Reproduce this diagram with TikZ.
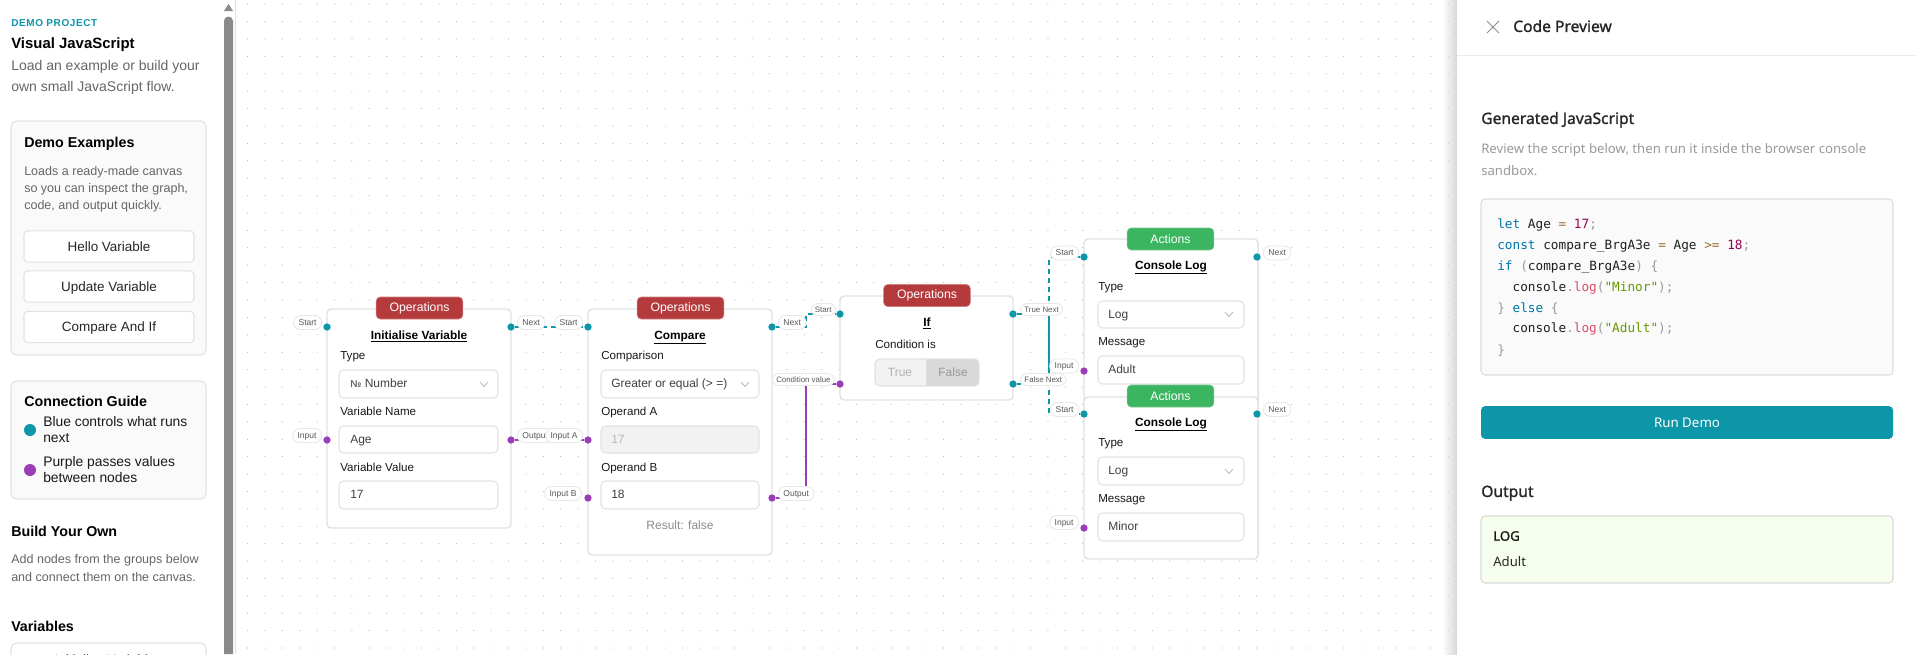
\documentclass[tikz,border=0pt]{standalone}
\usepackage{fontspec}
\setmainfont{Liberation Sans}
\newfontfamily\panelfont{Noto Sans}
\newfontfamily\panelboldfont[FakeBold=1.2]{Noto Sans}
\newfontfamily\codefont{DejaVu Sans Mono}
\usetikzlibrary{backgrounds}

\definecolor{teal}{HTML}{0D95A8}
\definecolor{violet}{HTML}{9C3DB8}
\definecolor{opsred}{HTML}{B53A3C}
\definecolor{actgreen}{HTML}{3CB560}
\definecolor{edgegrey}{HTML}{E2E2E2}
\definecolor{logbg}{HTML}{F6FFED}

\newcommand{\codeK}[1]{\textcolor[HTML]{0077AA}{#1}}
\newcommand{\codeN}[1]{\textcolor[HTML]{990055}{#1}}
\newcommand{\codeO}[1]{\textcolor[HTML]{9A6E3A}{#1}}
\newcommand{\codeP}[1]{\textcolor[HTML]{999999}{#1}}
\newcommand{\codeS}[1]{\textcolor[HTML]{669900}{#1}}
\newcommand{\codeF}[1]{\textcolor[HTML]{DD4A68}{#1}}

\begin{document}
\begin{tikzpicture}[
  x=0.75pt, y=-0.75pt,
  txt/.style={inner sep=0, anchor=west, text height=7pt, text depth=2pt},
  side/.style={txt, text height=9.2pt, text=black!60, font=\fontsize{9.4}{11}\selectfont},
  head/.style={txt, text height=9.8pt, text=black, font=\bfseries\fontsize{10.7}{12}\selectfont},
  btn/.style={draw=edgegrey, fill=white, rounded corners=3pt, line width=0.8pt, minimum width=127.5pt, minimum height=23.5pt, inner sep=0, text=black!85, text height=9pt, text depth=2pt, font=\fontsize{10.1}{12}\selectfont},
  card/.style={draw=edgegrey, fill=white, line width=1.1pt, rounded corners=3pt},
  badgeR/.style={draw=opsred!65, fill=opsred, rounded corners=3pt, minimum width=65pt, minimum height=16.5pt, inner sep=0, text=white, font=\fontsize{9.2}{11}\selectfont},
  badgeG/.style={badgeR, draw=actgreen!70, fill=actgreen},
  title/.style={inner sep=0, text height=7pt, text depth=2pt, text=black, font=\bfseries\fontsize{8.9}{11}\selectfont},
  lab/.style={txt, text=black!90, font=\fontsize{8.7}{11}\selectfont},
  val/.style={txt, text=black!75, font=\fontsize{9}{11}\selectfont},
  field/.style={draw=edgegrey, fill=white, line width=0.8pt, rounded corners=3.5pt},
  chev/.style={draw=black!28, line width=0.6pt},
  pill/.style={draw=black!9, fill=white, line width=0.7pt, rounded corners=5pt, minimum height=10.5pt, inner xsep=3.7pt, inner ysep=0, text=black!65, text height=5pt, text depth=1.2pt, font=\fontsize{6.4}{8}\selectfont},
  pillS/.style={pill, minimum height=9pt, inner xsep=3pt, font=\fontsize{5.9}{7}\selectfont},
  portT/.style={circle, fill=teal, inner sep=0, minimum size=5.5pt},
  portV/.style={circle, fill=violet, inner sep=0, minimum size=5.5pt},
  edgeT/.style={teal, line width=1.5pt, dash pattern=on 3.75pt off 3pt},
  edgeV/.style={violet, line width=1.5pt},
  pane/.style={txt, text height=7.6pt, font=\panelfont\fontsize{9.87}{12}\selectfont},
  paneH/.style={txt, text height=9.4pt, text=black!85, font=\panelboldfont\fontsize{11.7}{14}\selectfont},
  code/.style={txt, text=black!88, font=\codefont\fontsize{9.55}{12}\selectfont}
]
\useasboundingbox (0,0) rectangle (1916,654);

% --- canvas ---
\begin{pgfonlayer}{background}
\fill[white] (0,0) rectangle (1916,654);
\shade[left color=white, right color=black!16] (1442,0) rectangle (1457,654);
\fill[black!28] \foreach \i in {0,...,69} { \foreach \j in {0,...,37} { (247.5+17.4*\i, 4.2+17.4*\j) circle[radius=0.6] } };
\end{pgfonlayer}

% --- initialise variable ---
\node[pill, anchor=east] (ivStartL) at (322,322.5) {Start};
\node[pill, anchor=east] (ivInputL) at (322,435.5) {Input};
\node[pill, anchor=west] (ivNextL) at (517,322.5) {Next};
\node[pill, anchor=west] (ivOutL) at (517,435.5) {Output};
\draw[card] (327,309) rectangle (511,528);
\node[badgeR] (ivBadge) at (419.5,308) {Operations};
\node[title] (ivTitle) at (419,336) {\underline{Initialise Variable}};
\node[lab] (ivType) at (340,356) {Type};
\draw[field] (339,370) rectangle (498,398);
\node[val] (ivTypeV) at (350,384) {{\bfseries\color{black!60}\fontsize{7.5}{9}\selectfont №} Number};
\draw[chev] (480,382) -- (484,386.5) -- (488,382);
\node[lab] (ivName) at (340,412) {Variable Name};
\draw[field] (339,426) rectangle (498,453);
\node[val] (ivNameV) at (350,440) {Age};
\node[lab] (ivVal) at (340,468) {Variable Value};
\draw[field] (339,481) rectangle (498,509);
\node[val] (ivValV) at (350,495) {17};
\node[portT] (ivStart) at (327,327) {};
\node[portV] (ivInput) at (327,440) {};
\node[portT] (ivNext) at (511,327) {};
\node[portV] (ivOut) at (511,440) {};

% --- compare ---
\node[pill, anchor=east] (cmpStartL) at (583,322.5) {Start};
\node[pill, anchor=east] (cmpAL) at (583,435.5) {Input A};
\node[pill, anchor=east] (cmpBL) at (582,493.5) {Input B};
\node[pill, anchor=west] (cmpNextL) at (778,322.5) {Next};
\node[pill, anchor=west] (cmpOutL) at (778,493.5) {Output};
\draw[card] (588,309) rectangle (772,555);
\node[badgeR] (cmpBadge) at (680.5,308) {Operations};
\node[title] (cmpTitle) at (680,336) {\underline{Compare}};
\node[lab] (cmpKind) at (601,356) {Comparison};
\draw[field] (601,370) rectangle (759,398);
\node[val] (cmpKindV) at (611,384) {Greater or equal (> =)};
\draw[chev] (741,382) -- (745,386.5) -- (749,382);
\node[lab] (cmpOpA) at (601,412) {Operand A};
\draw[field, fill=black!5] (601,426) rectangle (759,453);
\node[val, text=black!28] (cmpOpAV) at (611,440) {17};
\node[lab] (cmpOpB) at (601,468) {Operand B};
\draw[field] (601,481) rectangle (759,509);
\node[val] (cmpOpBV) at (611,495) {18};
\node[val, anchor=center, text=black!45] (cmpRes) at (680,526) {Result: false};
\node[portT] (cmpStart) at (588,327) {};
\node[portV] (cmpA) at (588,440) {};
\node[portV] (cmpB) at (588,498) {};
\node[portT] (cmpNext) at (772,327) {};
\node[portV] (cmpOut) at (772,498) {};

% --- if ---
\node[pillS, anchor=east] (ifStartL) at (836,309.5) {Start};
\node[pillS, anchor=east] (ifCondL) at (835,379.5) {Condition value};
\node[pillS, anchor=west] (ifTrueL) at (1020,309.5) {True Next};
\node[pillS, anchor=west] (ifFalseL) at (1020,379.5) {False Next};
\draw[card] (840,296) rectangle (1013,400);
\node[badgeR] (ifBadge) at (927,295.5) {Operations};
\node[title] (ifTitle) at (927,323) {\underline{If}};
\node[lab] (ifCond) at (875,345) {Condition is};
\draw[field, fill=black!5] (875,359) rectangle (979,386);
\fill[black!15] (926,359.4) [rounded corners=2.6pt] -- (978.6,359.4) -- (978.6,385.6) [sharp corners] -- (926,385.6) -- cycle;
\node[val, anchor=center, text=black!30] (ifTrue) at (900,373) {True};
\node[val, anchor=center, text=black!40] (ifFalse) at (953,373) {False};
\node[portT] (ifStart) at (840,314) {};
\node[portV] (ifCondP) at (840,384) {};
\node[portT] (ifTrueP) at (1013,314) {};
\node[portT] (ifFalseP) at (1013,384) {};

% --- console log (adult) ---
\node[pill, anchor=east] (adStartL) at (1079,253) {Start};
\node[pill, anchor=east] (adInputL) at (1079,366) {Input};
\node[pill, anchor=west] (adNextL) at (1263,253) {Next};
\draw[card] (1084,239) rectangle (1258,420);
\node[badgeG] (adBadge) at (1170.5,239) {Actions};
\node[title] (adTitle) at (1171,266) {\underline{Console Log}};
\node[lab] (adType) at (1098,287) {Type};
\draw[field] (1098,301) rectangle (1244,328);
\node[val] (adTypeV) at (1108,315) {Log};
\draw[chev] (1225,312) -- (1229,316.5) -- (1233,312);
\node[lab] (adMsg) at (1098,342) {Message};
\draw[field] (1098,356) rectangle (1244,384);
\node[val] (adMsgV) at (1108,370) {Adult};
\node[portT] (adStart) at (1084,257) {};
\node[portV] (adInput) at (1084,371) {};
\node[portT] (adNext) at (1257,257) {};

% --- console log (minor) ---
\node[pill, anchor=east] (miStartL) at (1079,409.5) {Start};
\node[pill, anchor=east] (miInputL) at (1079,522.5) {Input};
\node[pill, anchor=west] (miNextL) at (1263,409.5) {Next};
\draw[card] (1084,397) rectangle (1258,559);
\node[badgeG] (miBadge) at (1170.5,396) {Actions};
\node[title] (miTitle) at (1171,423) {\underline{Console Log}};
\node[lab] (miType) at (1098,443) {Type};
\draw[field] (1098,457) rectangle (1244,485);
\node[val] (miTypeV) at (1108,471) {Log};
\draw[chev] (1225,469) -- (1229,473.5) -- (1233,469);
\node[lab] (miMsg) at (1098,499) {Message};
\draw[field] (1098,513) rectangle (1244,541);
\node[val] (miMsgV) at (1108,527) {Minor};
\node[portT] (miStart) at (1084,414) {};
\node[portV] (miInput) at (1084,528) {};
\node[portT] (miNext) at (1257,414) {};

% --- edges ---
\begin{pgfonlayer}{background}
\draw[edgeT] (ivNext) -- (cmpStart);
\draw[edgeV] (ivOut) -- (cmpA);
\draw[edgeT] (cmpNext) -- ++(34,0) |- (ifStart);
\draw[edgeV] (cmpOut) -- ++(34,0) |- (ifCondP);
\draw[edgeT] (ifTrueP) -- ++(36,0) |- (miStart);
\draw[edgeT, dash phase=1.825pt] (adStart) -- ++(-35,0) |- (ifFalseP);
\end{pgfonlayer}

% --- sidebar ---
\fill[white] (0,0) rectangle (235,654);
\draw[black!12] (235.5,0) -- (235.5,654);
\fill[black!46] (224,21) arc[start angle=180, end angle=360, radius=4.5] -- (233,654) -- (224,654) -- cycle;
\fill[black!46] (224,11) -- (228.5,4) -- (233,11) -- cycle;
\node[txt, text height=8.8pt, text=teal, font=\bfseries\fontsize{7.5}{9}\selectfont\addfontfeature{LetterSpace=6}] (sdDemo) at (11,22) {DEMO PROJECT};
\node[head, font=\bfseries\fontsize{11.2}{13}\selectfont] (sdTitle) at (11,43) {Visual JavaScript};
\node[side, font=\fontsize{10.5}{12}\selectfont] (sdIntroA) at (11,66) {Load an example or build your};
\node[side, font=\fontsize{10.5}{12}\selectfont] (sdIntroB) at (11,87) {own small JavaScript flow.};

\draw[edgegrey, fill=black!2, line width=0.8pt, rounded corners=4pt] (11,121) rectangle (206,355);
\node[head] (exTitle) at (24,142) {Demo Examples};
\node[side] (exTextA) at (24,170.5) {Loads a ready-made canvas};
\node[side] (exTextB) at (24,187.5) {so you can inspect the graph,};
\node[side] (exTextC) at (24,204.5) {code, and output quickly.};
\node[btn] (exHello) at (109,246.5) {Hello Variable};
\node[btn] (exUpdate) at (109,286.5) {Update Variable};
\node[btn] (exCompare) at (109,327) {Compare And If};

\draw[edgegrey, fill=black!2, line width=0.8pt, rounded corners=4pt] (11,381) rectangle (206,499);
\node[head] (gdTitle) at (24,401) {Connection Guide};
\node[circle, fill=teal, inner sep=0, minimum size=9pt] (gdBlue) at (30,430) {};
\node[side, text=black!90, font=\fontsize{10.4}{12}\selectfont] (gdBlueA) at (43,422) {Blue controls what runs};
\node[side, text=black!90, font=\fontsize{10.4}{12}\selectfont] (gdBlueB) at (43,438) {next};
\node[circle, fill=violet, inner sep=0, minimum size=9pt] (gdPurple) at (30,470) {};
\node[side, text=black!90, font=\fontsize{10.4}{12}\selectfont] (gdPurpleA) at (43,462) {Purple passes values};
\node[side, text=black!90, font=\fontsize{10.4}{12}\selectfont] (gdPurpleB) at (43,478) {between nodes};

\node[head] (ownTitle) at (11,531) {Build Your Own};
\node[side] (ownTextA) at (11,558.5) {Add nodes from the groups below};
\node[side] (ownTextB) at (11,576.5) {and connect them on the canvas.};
\node[head] (varTitle) at (11,626) {Variables};
\begin{scope}
\clip (0,0) rectangle (1916,654);
\draw[edgegrey, fill=white, line width=0.8pt, rounded corners=4pt] (11,643) rectangle (206,690);
\node[inner sep=0, text=black!85, font=\fontsize{10.1}{12}\selectfont] (varBtn) at (105,660) {Initialise Variable};
\end{scope}

% --- code preview ---
\fill[white] (1457,0) rectangle (1916,654);
\draw[black!8] (1457,55) -- (1916,55);
\draw[black!45, line width=0.7pt] (1487,21) -- (1499,33);
\draw[black!45, line width=0.7pt] (1499,21) -- (1487,33);
\node[paneH] (cpTitle) at (1513,27) {Code Preview};
\node[paneH] (cpGen) at (1481,119) {Generated JavaScript};
\node[pane, text=black!40] (cpTextA) at (1481,150) {Review the script below, then run it inside the browser console};
\node[pane, text=black!40] (cpTextB) at (1481,172) {sandbox.};
\draw[black!13, fill=black!2, line width=0.8pt, rounded corners=3pt] (1481,199) rectangle (1893,375);
\node[code] (ln1) at (1497,225) {\codeK{let} Age \codeO{=} \codeN{17}\codeP{;}};
\node[code] (ln2) at (1497,246) {\codeK{const} compare\_BrgA3e \codeO{=} Age \codeO{>=} \codeN{18}\codeP{;}};
\node[code] (ln3) at (1497,267) {\codeK{if} \codeP{(}compare\_BrgA3e\codeP{)} \codeP{\{}};
\node[code] (ln4) at (1512.3,288) {console\codeP{.}\codeF{log}\codeP{(}\codeS{"Minor"}\codeP{);}};
\node[code] (ln5) at (1497,309) {\codeP{\}} \codeK{else} \codeP{\{}};
\node[code] (ln6) at (1512.3,329.5) {console\codeP{.}\codeF{log}\codeP{(}\codeS{"Adult"}\codeP{);}};
\node[code] (ln7) at (1497,351) {\codeP{\}}};
\node[fill=teal, rounded corners=3pt, minimum width=309pt, minimum height=24.5pt, inner sep=0, text=white, font=\panelfont\fontsize{10}{12}\selectfont] (runBtn) at (1687,422.5) {Run Demo};
\node[paneH] (outTitle) at (1481,492) {Output};
\draw[black!15, fill=logbg, line width=0.8pt, rounded corners=3pt] (1481,516) rectangle (1893,583);
\node[pane, text=black!90, font=\panelboldfont\fontsize{9.87}{12}\selectfont] (outLog) at (1493,537) {LOG};
\node[pane, text=black!85] (outAdult) at (1493,563) {Adult};
\end{tikzpicture}
\end{document}
